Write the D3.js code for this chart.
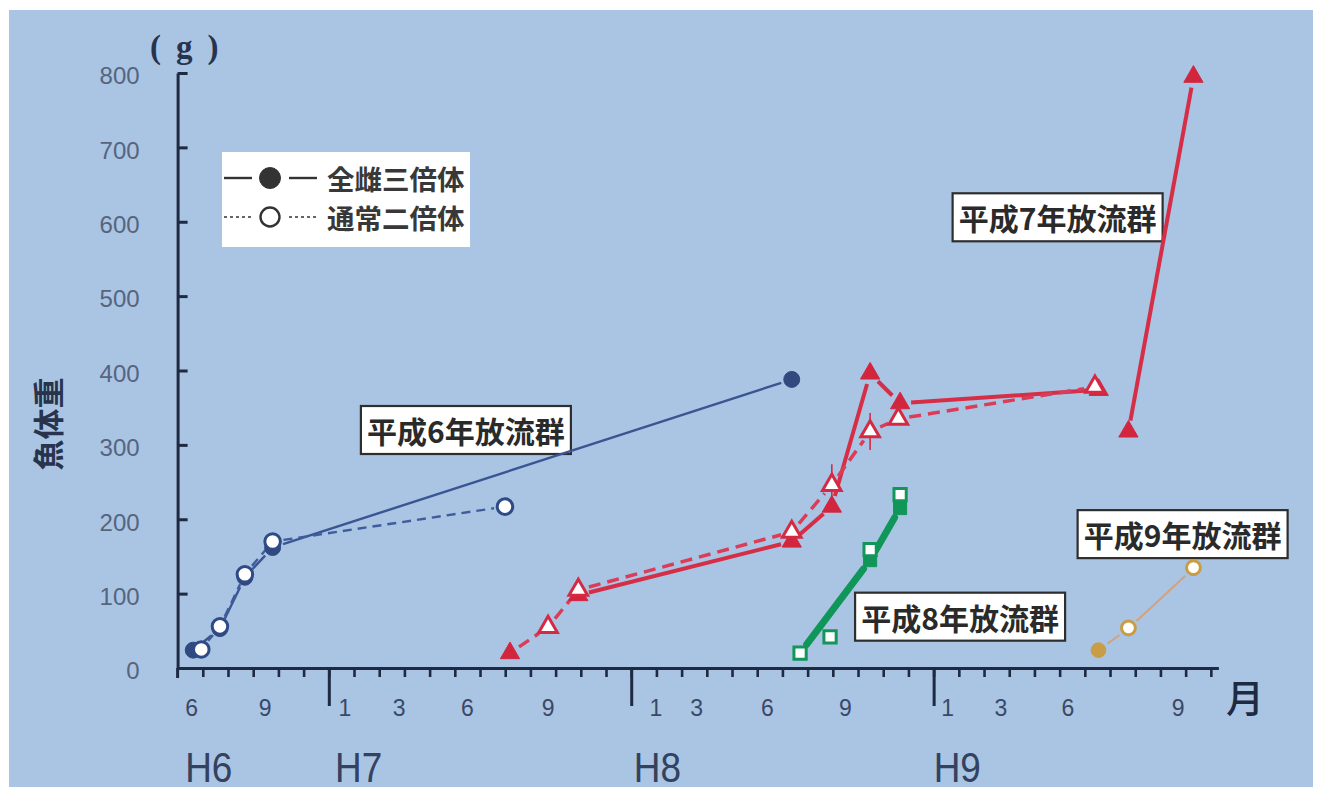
<!DOCTYPE html>
<html><head><meta charset="utf-8">
<script src="https://cdn.jsdelivr.net/npm/d3@7/dist/d3.min.js"></script>
<style>body{margin:0;background:#fff}svg{display:block}</style>
</head><body>
<svg id="c" width="1323" height="796"></svg>
<script>
// ---------------- data ----------------
const yTickValues = [0, 100, 200, 300, 400, 500, 600, 700, 800];
const monthTicks = d3.range(7, 48);           // month boundaries (months from Jan H6)
const yearStarts = [12, 24, 36];
const monthLabelText = ["6","9","1","3","6","9","1","3","6","9","1","3","6","9"];
const monthLabelPos  = [6.56, 9.47, 12.64, 14.79, 17.5, 20.7, 24.98, 26.6, 29.4, 32.5, 36.56, 38.67, 41.33, 45.7];
const yearLabelText = ["H6", "H7", "H8", "H9"];
const yearLabelPos  = [6.3, 12.25, 24.1, 36.0];

// 平成6年放流群
const h6TriT = [6.62, 7.68, 8.67, 9.77, 30.37];
const h6TriV = [24, 53, 122, 162, 388];
const h6DipT = [6.94, 7.68, 8.67, 9.77, 18.99];
const h6DipV = [25, 56, 126, 170, 217];
// 平成7年放流群
const h7TriT = [19.19, 21.9, 30.37, 31.96, 33.48, 34.67, 42.55, 43.73, 46.31];
const h7TriV = [20, 98, 170, 217, 396, 356, 374, 318, 795];
const h7TriLink = [false, false, true, true, true, true, true, false, true];
const h7DipT = [19.19, 20.7, 21.9, 30.37, 31.96, 33.48, 34.6, 42.4];
const h7DipV = [20, 55, 105, 183, 246, 318, 335, 378];
const h7DipErr = [0, 0, 0, 0, 28, 25, 0, 12];
const h7DipMark = [false, true, true, true, true, true, true, true];
// 平成8年放流群
const h8TriT = [30.7, 33.48, 34.67];
const h8TriV = [20, 145, 215];
const h8DipT = [30.7, 31.89, 33.48, 34.67];
const h8DipV = [20, 42, 159, 233];
// 平成9年放流群
const h9TriT = [42.54, 43.73, 46.31];
const h9TriV = [24, 53, 134];
const h9DipT = [43.73, 46.31];
const h9DipV = [54, 135];

const legendLabels = ["全雌三倍体", "通常二倍体"];
const groupLabels = ["平成6年放流群", "平成7年放流群", "平成8年放流群", "平成9年放流群"];
const groupLabelT = [17.44, 40.92, 37.05, 45.88];
const groupLabelV = [320, 606, 69, 180];

// ---------------- chart ----------------
const W = 1323, H = 796;
const svg = d3.select("#c");
const CJK = "'Noto Sans CJK JP','Noto Sans CJK SC',sans-serif";
const LAT = "'Liberation Sans',Arial,sans-serif";
const AX = "#1e2942";

svg.append("rect").attr("width", W).attr("height", H).attr("fill", "#ffffff");
svg.append("rect").attr("x", 9).attr("y", 10).attr("width", 1304).attr("height", 777).attr("fill", "#a9c5e3");

const x = d3.scaleLinear().domain([6, 47.3]).range([177.6, 1218.4]);
const y = d3.scaleLinear().domain([0, 800]).range([668, 73]);

// group annotation boxes
const boxW = 210, boxH = 48;
groupLabels.forEach((s, i) => {
  const cx = x(groupLabelT[i]), cy = y(groupLabelV[i]);
  svg.append("rect").attr("x", cx - boxW / 2).attr("y", cy - boxH / 2).attr("width", boxW).attr("height", boxH)
    .attr("fill", "#ffffff").attr("stroke", "#2e2e2e").attr("stroke-width", 2.2);
  svg.append("text").attr("x", cx).attr("y", cy).attr("text-anchor", "middle").attr("dominant-baseline", "central")
    .attr("font-family", CJK).attr("font-weight", 700).attr("font-size", 30).attr("fill", "#2a2a2a").text(s);
});

// legend
const lg = svg.append("g");
lg.append("rect").attr("x", 222).attr("y", 152).attr("width", 248).attr("height", 95).attr("fill", "#ffffff");
[178, 217].forEach((ly, i) => {
  const dash = i === 0 ? null : "3,3";
  const sw = i === 0 ? 2.4 : 1.6;
  lg.append("line").attr("x1", 224).attr("x2", 252).attr("y1", ly).attr("y2", ly).attr("stroke", "#333").attr("stroke-width", sw).attr("stroke-dasharray", dash);
  lg.append("line").attr("x1", 289).attr("x2", 317).attr("y1", ly).attr("y2", ly).attr("stroke", "#333").attr("stroke-width", sw).attr("stroke-dasharray", dash);
  lg.append("circle").attr("cx", 270).attr("cy", ly).attr("r", i === 0 ? 10.5 : 9.5)
    .attr("fill", i === 0 ? "#333" : "#fff").attr("stroke", "#333").attr("stroke-width", i === 0 ? 1 : 2.4);
  lg.append("text").attr("x", 327).attr("y", ly).attr("dominant-baseline", "central")
    .attr("font-family", CJK).attr("font-weight", 700).attr("font-size", 27.5).attr("fill", "#383838").text(legendLabels[i]);
});

// axes
const yAxis = d3.axisLeft(y).tickValues(yTickValues).tickSizeInner(-10).tickSizeOuter(0).tickPadding(38);
const gy = svg.append("g").attr("transform", `translate(${x(6)},0)`).call(yAxis);
gy.select(".domain").attr("stroke", AX).attr("stroke-width", 3);
gy.selectAll(".tick line").attr("stroke", AX).attr("stroke-width", 3);
gy.selectAll(".tick text").attr("font-family", LAT).attr("font-size", 24).attr("fill", "#56647e").attr("dy", "0.45em");
svg.append("line").attr("x1", x(6)).attr("x2", x(6)).attr("y1", y(0)).attr("y2", y(0) + 10).attr("stroke", AX).attr("stroke-width", 3);

const xAxis = d3.axisBottom(x).tickValues(monthTicks).tickSize(9).tickSizeOuter(0).tickFormat(() => "");
const gx = svg.append("g").attr("transform", `translate(0,${y(0)})`).call(xAxis);
gx.select(".domain").attr("stroke", AX).attr("stroke-width", 3.2);
gx.selectAll(".tick line").attr("stroke", AX).attr("stroke-width", 2.6);
const xMajor = d3.axisBottom(x).tickValues(yearStarts).tickSize(38).tickFormat(() => "");
const gx2 = svg.append("g").attr("transform", `translate(0,${y(0)})`).call(xMajor);
gx2.select(".domain").remove();
gx2.selectAll(".tick line").attr("stroke", AX).attr("stroke-width", 3);

monthLabelText.forEach((s, i) => {
  svg.append("text").attr("x", x(monthLabelPos[i])).attr("y", 716).attr("text-anchor", "middle")
    .attr("font-family", LAT).attr("font-size", 23).attr("fill", "#3a4868").text(s);
});
yearLabelText.forEach((s, i) => {
  svg.append("text").attr("transform", `translate(${x(yearLabelPos[i])},782) scale(0.88,1)`)
    .attr("font-family", LAT).attr("font-size", 42).attr("fill", "#34425f").text(s);
});

// axis titles
svg.append("text").attr("x", 150).attr("y", 58).attr("font-family", "'Liberation Serif',serif").attr("font-weight", 700)
  .attr("font-size", 33).attr("letter-spacing", 15).attr("fill", "#28334d").text("(g)");
svg.append("text").attr("transform", "translate(46,424) rotate(-90)").attr("text-anchor", "middle").attr("dominant-baseline", "central")
  .attr("font-family", CJK).attr("font-weight", 700).attr("font-size", 31).attr("fill", "#28334d").text("魚体重");
svg.append("text").attr("x", 1245).attr("y", 712).attr("text-anchor", "middle").attr("font-family", CJK).attr("font-weight", 500)
  .attr("font-size", 38).attr("fill", "#1e2942").text("月");

// ---------------- series ----------------
const SYM = { circle: d3.symbolCircle, triangle: d3.symbolTriangle, square: d3.symbolSquare };
const series = [
  { t: h6TriT, v: h6TriV, color: "#3a5592", mcolor: "#30497f", filled: true, sym: "circle", size: 200, lw: 2.4, dash: null },
  { t: h6DipT, v: h6DipV, color: "#3f5d9c", mcolor: "#2f4a86", filled: false, sym: "circle", size: 190, lw: 2.4, dash: "9,6" },
  { t: h7TriT, v: h7TriV, link: h7TriLink, color: "#d62e47", mcolor: "#d2263f", filled: true, sym: "triangle", size: 160, lw: 4, dash: null },
  { t: h7DipT, v: h7DipV, mark: h7DipMark, err: h7DipErr, color: "#db3d58", mcolor: "#d42a44", filled: false, sym: "triangle", size: 150, lw: 3.5, dash: "12,7" },
  { t: h8TriT, v: h8TriV, color: "#0f9658", mcolor: "#0f9658", filled: true, sym: "square", size: 170, lw: 7, dash: null, cap: "round" },
  { t: h8DipT, v: h8DipV, color: "#0f9658", mcolor: "#13965a", filled: false, sym: "square", size: 150, lw: 0, dash: null },
  { t: h9TriT, v: h9TriV, color: "#d4a17c", mcolor: "#c99d45", filled: true, sym: "circle", size: 170, lw: 2, dash: null },
  { t: h9DipT, v: h9DipV, color: "#d4a17c", mcolor: "#c99d45", filled: false, sym: "circle", size: 150, lw: 0, dash: null }
];

const gap = 11;
const gl = svg.append("g"), gm = svg.append("g");
series.forEach(s => {
  if (s.lw > 0) {
    for (let i = 1; i < s.t.length; i++) {
      if (s.link && !s.link[i]) continue;
      const x0 = x(s.t[i - 1]), y0 = y(s.v[i - 1]), x1 = x(s.t[i]), y1 = y(s.v[i]);
      const dx = x1 - x0, dy = y1 - y0, L = Math.hypot(dx, dy);
      if (L <= 2 * gap) continue;
      const ux = dx / L, uy = dy / L;
      gl.append("line").attr("x1", x0 + ux * gap).attr("y1", y0 + uy * gap).attr("x2", x1 - ux * gap).attr("y2", y1 - uy * gap)
        .attr("stroke", s.color).attr("stroke-width", s.lw).attr("stroke-dasharray", s.dash).attr("stroke-linecap", s.cap || "butt");
    }
  }
  if (s.err) {
    s.t.forEach((t, i) => {
      if (!s.err[i]) return;
      gl.append("line").attr("x1", x(t)).attr("x2", x(t)).attr("y1", y(s.v[i] - s.err[i])).attr("y2", y(s.v[i] + s.err[i]))
        .attr("stroke", s.mcolor).attr("stroke-width", 1.6);
    });
  }
});
series.forEach(s => {
  const sym = d3.symbol().type(SYM[s.sym]).size(s.size);
  s.t.forEach((t, i) => {
    if (s.mark && !s.mark[i]) return;
    gm.append("path").attr("d", sym()).attr("transform", `translate(${x(t)},${y(s.v[i])})`)
      .attr("fill", s.filled ? s.mcolor : "#ffffff").attr("stroke", s.mcolor).attr("stroke-width", s.filled ? 1 : 3);
  });
});
</script>
</body></html>
